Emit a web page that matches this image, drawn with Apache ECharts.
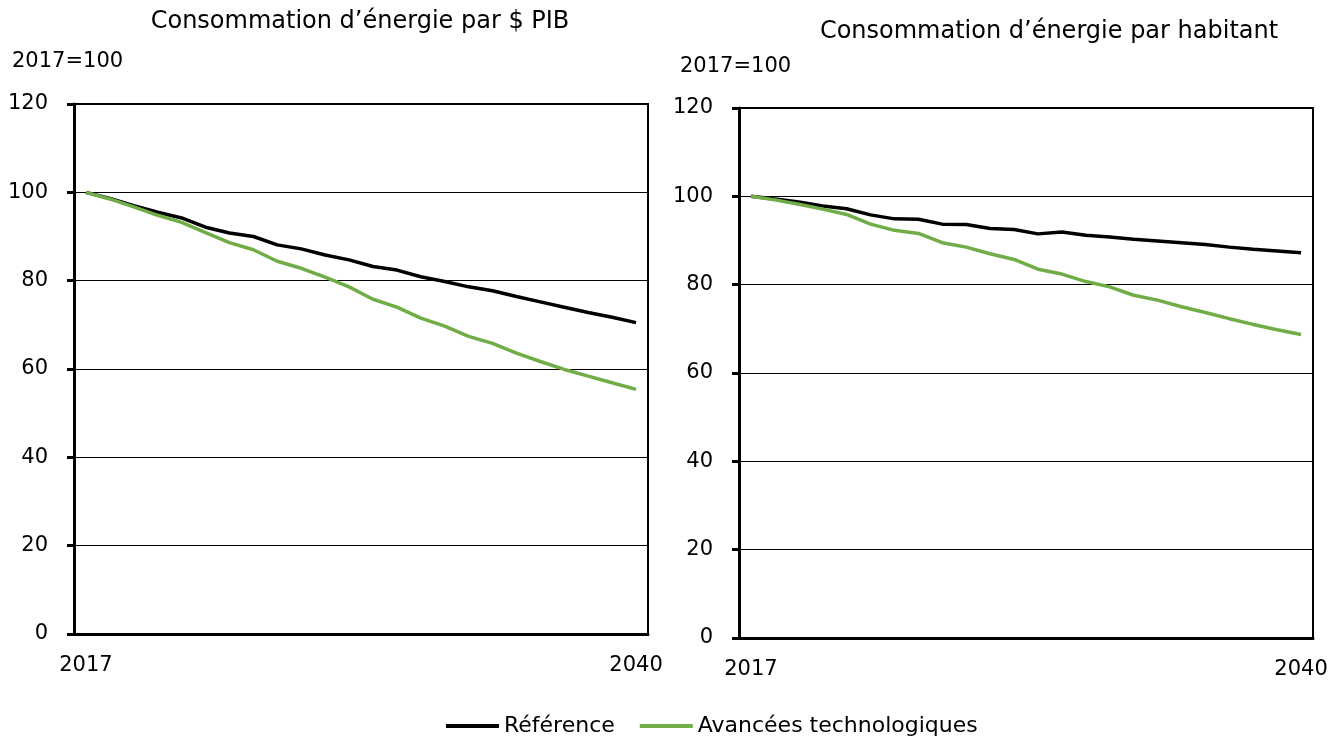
<!DOCTYPE html>
<html>
<head>
<meta charset="utf-8">
<script src="https://cdn.jsdelivr.net/npm/echarts@6/dist/echarts.min.js"></script>
<style>
  html, body { margin: 0; padding: 0; background: #fff; }
  #chart { width: 1340px; height: 737px; }
</style>
</head>
<body>
<div id="chart"></div>
<script>
  var years = ['2017', '2018', '2019', '2020', '2021', '2022', '2023', '2024', '2025', '2026', '2027', '2028',
    '2029', '2030', '2031', '2032', '2033', '2034', '2035', '2036', '2037', '2038', '2039', '2040']
  // consommation par $ PIB
  var refPib = [100, 98.6, 97.0, 95.5, 94.2, 92.1, 90.8, 90.0, 88.1, 87.2, 85.8, 84.7,
    83.2, 82.4, 80.9, 79.8, 78.6, 77.7, 76.4, 75.2, 74.0, 72.8, 71.7, 70.5]
  var techPib = [100, 98.5, 96.7, 94.8, 93.2, 90.9, 88.6, 87.0, 84.4, 82.8, 80.8, 78.6,
    75.8, 74.0, 71.5, 69.7, 67.4, 65.8, 63.6, 61.7, 59.9, 58.4, 56.9, 55.4]
  // consommation par habitant
  var refHab = [100, 99.4, 98.7, 97.8, 97.2, 95.8, 94.9, 94.8, 93.7, 93.6, 92.7, 92.5,
    91.5, 91.9, 91.2, 90.8, 90.3, 89.9, 89.5, 89.1, 88.5, 88.0, 87.6, 87.2]
  var techHab = [100, 99.2, 98.2, 97.1, 95.9, 93.7, 92.3, 91.6, 89.5, 88.5, 87.0, 85.7,
    83.5, 82.4, 80.7, 79.5, 77.6, 76.5, 75.0, 73.7, 72.3, 71.0, 69.8, 68.7]
  var yTicks = [0, 20, 40, 60, 80, 100, 120]

  var font = 'DejaVu Sans'
  var titleTxt = { fontFamily: font, fontSize: 24, color: '#000', fontWeight: 'normal' }
  var unitTxt = { fontFamily: font, fontSize: 21, color: '#000', fontWeight: 'normal' }

  function xAxis(i) {
    return {
      type: 'category',
      gridIndex: i,
      data: years,
      boundaryGap: true,
      axisLine: { lineStyle: { color: '#000', width: 3 } },
      axisTick: { show: false },
      axisLabel: {
        interval: function (idx) { return idx === 0 || idx === years.length - 1 },
        margin: 21,
        fontFamily: font, fontSize: 21, color: '#000'
      }
    }
  }
  function yAxis(i) {
    return {
      type: 'value',
      gridIndex: i,
      min: yTicks[0],
      max: yTicks[yTicks.length - 1],
      interval: 20,
      axisLine: { show: true, lineStyle: { color: '#000', width: 3 } },
      axisTick: { show: true, length: 7, lineStyle: { color: '#000', width: 3 } },
      axisLabel: { margin: 26, fontFamily: font, fontSize: 21, color: '#000' },
      splitLine: { lineStyle: { color: '#000', width: 1 } }
    }
  }
  function line(name, data, color, i) {
    return {
      name: name,
      type: 'line',
      xAxisIndex: i,
      yAxisIndex: i,
      data: data,
      symbol: 'none',
      lineStyle: { color: color, width: 3.5 },
      itemStyle: { color: color }
    }
  }

  var option = {
    animation: false,
    backgroundColor: '#fff',
    title: [
      { text: 'Consommation d’énergie par $ PIB', left: 355, top: 5, textAlign: 'center', textStyle: titleTxt },
      { text: '2017=100', left: 7, top: 46, textStyle: unitTxt },
      { text: 'Consommation d’énergie par habitant', left: 1044, top: 15, textAlign: 'center', textStyle: titleTxt },
      { text: '2017=100', left: 675, top: 51, textStyle: unitTxt }
    ],
    legend: {
      data: ['Référence', 'Avancées technologiques'],
      left: 441,
      top: 710,
      icon: 'rect',
      itemWidth: 53,
      itemHeight: 4,
      itemGap: 25,
      textStyle: { fontFamily: font, fontSize: 22, color: '#000' }
    },
    grid: [
      { left: 74, top: 104, width: 574, height: 530, show: true, borderColor: '#000', borderWidth: 2 },
      { left: 739, top: 108, width: 574, height: 530, show: true, borderColor: '#000', borderWidth: 2 }
    ],
    xAxis: [xAxis(0), xAxis(1)],
    yAxis: [yAxis(0), yAxis(1)],
    series: [
      line('Référence', refPib, '#000000', 0),
      line('Avancées technologiques', techPib, '#70ad47', 0),
      line('Référence', refHab, '#000000', 1),
      line('Avancées technologiques', techHab, '#70ad47', 1)
    ]
  }

  var chart = echarts.init(document.getElementById('chart'))
  chart.setOption(option)
  window.addEventListener('resize', function () { chart.resize() })
</script>
</body>
</html>
